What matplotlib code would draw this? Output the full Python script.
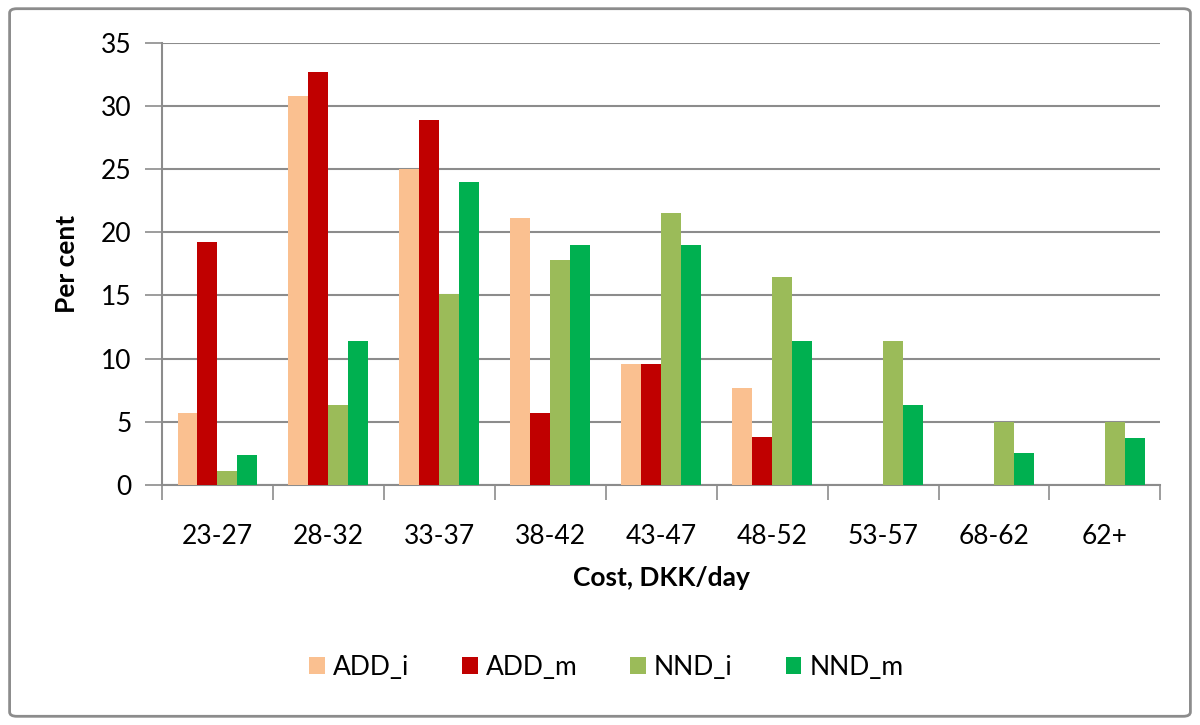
import numpy as np
import matplotlib
matplotlib.use("Agg")
from matplotlib import pyplot as plt
from matplotlib.patches import FancyBboxPatch

categories = ['23-27', '28-32', '33-37', '38-42', '43-47', '48-52', '53-57', '68-62', '62+']
add_i = [5.7, 30.8, 25.0, 21.1, 9.6, 7.7, 0, 0, 0]
add_m = [19.2, 32.7, 28.9, 5.7, 9.6, 3.8, 0, 0, 0]
nnd_i = [1.1, 6.3, 15.1, 17.8, 21.5, 16.5, 11.4, 5.0, 5.0]
nnd_m = [2.4, 11.4, 24.0, 19.0, 19.0, 11.4, 6.3, 2.5, 3.7]

series = [('ADD_i', add_i, '#FAC090'),
          ('ADD_m', add_m, '#C00000'),
          ('NND_i', nnd_i, '#9BBB59'),
          ('NND_m', nnd_m, '#00B050')]

plt.rcParams['font.family'] = ['Lato', 'DejaVu Sans']

fig = plt.figure(figsize=(12, 7.25), dpi=100)
ax = fig.add_axes([0.135, 0.331, 0.832, 0.610])

# rounded frame around the whole chart
frame = FancyBboxPatch((0.008, 0.012), 0.984, 0.976, boxstyle='round,pad=0,rounding_size=0.006',
                       transform=fig.transFigure, fill=False, edgecolor='#8C8C8C', linewidth=2)
fig.patches.append(frame)

x = np.arange(len(categories))
w = 0.18
for k, (name, vals, col) in enumerate(series):
    ax.bar(x + (k - 1.5) * w, vals, w, color=col, label=name, zorder=3)

ax.set_xlim(-0.5, len(categories) - 0.5)
ax.set_ylim(0, 35)
ax.set_yticks(range(0, 36, 5))
ax.yaxis.grid(True, color='#8C8C8C', linewidth=1.5, zorder=0)

ax.set_xticks(x)
ax.set_xticklabels(categories)
ax.set_xticks(np.arange(-0.5, len(categories)), minor=True)
ax.tick_params(axis='x', which='major', length=0, pad=28, labelsize=19)
ax.tick_params(axis='x', which='minor', length=11, width=1.2, color='#8C8C8C')
ax.tick_params(axis='y', length=12, width=1.2, color='#8C8C8C', labelsize=19, pad=10)

for s in ['top', 'right']:
    ax.spines[s].set_visible(False)
for s in ['left', 'bottom']:
    ax.spines[s].set_color('#8C8C8C')
    ax.spines[s].set_linewidth(1.5)

ax.set_ylabel('Per cent', fontsize=19, fontweight='bold', labelpad=16)
ax.set_xlabel('Cost, DKK/day', fontsize=19, fontweight='bold', labelpad=12)

ax.legend(loc='upper center', bbox_to_anchor=(0.445, -0.33), ncol=4, frameon=False,
          fontsize=19, handlelength=0.6, handleheight=0.6, columnspacing=2.0, handletextpad=0.3)

fig.savefig('out.png', dpi=100)
